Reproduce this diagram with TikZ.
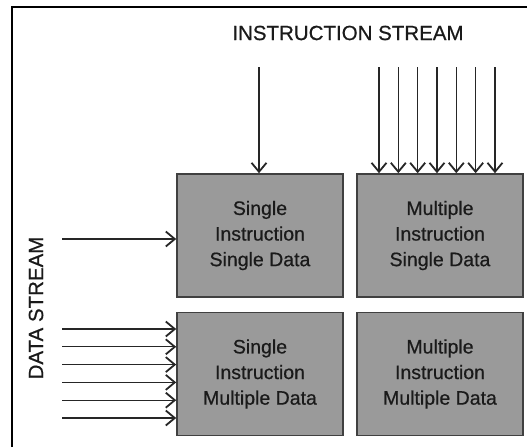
\documentclass[tikz,border=0pt]{standalone}
\usepackage{fontspec}
\setmainfont{Liberation Sans}
\newfontfamily\heavyish[FakeBold=0.6]{Liberation Sans}
\usetikzlibrary{arrows.meta}
\definecolor{boxfill}{HTML}{9A9A9A}
\definecolor{boxline}{HTML}{404040}
\definecolor{txt}{HTML}{1A1A1A}
\begin{document}
\begin{tikzpicture}[x=1pt,y=-1pt,
  cell/.style={draw=boxline, line width=1.6pt, fill=boxfill, minimum width=166pt, minimum height=123pt,
    inner sep=0pt, align=center, font=\heavyish\fontsize{19.5}{25.6}\selectfont, text=txt},
  arr/.style={line width=1.3pt, draw=black!85, -{Straight Barb[length=9pt,width=15pt,line width=1.8pt]}},
  lbl/.style={font=\heavyish\fontsize{20.5}{22}\selectfont, text=txt, inner sep=0pt}]
\useasboundingbox (0,0) rectangle (527,447);
\draw[line width=1.6pt, black] (12,447) -- (12,7) -- (527,7);
\node[cell] (sisd) at (260,235.5) {Single\\Instruction\\Single Data};
\node[cell] (misd) at (440,235.5) {Multiple\\Instruction\\Single Data};
\node[cell] (simd) at (260,374) {Single\\Instruction\\Multiple Data};
\node[cell] (mimd) at (440,374) {Multiple\\Instruction\\Multiple Data};
\node[lbl] (is) at (348,33) {INSTRUCTION STREAM};
\node[lbl, rotate=90] (ds) at (36,308) {DATA STREAM};
\coordinate (t0) at (259,67);
\draw[arr] (t0) -- (t0 |- sisd.north);
\foreach \i in {0,...,6} {
  \coordinate (m\i) at (379+\i*19.33,67);
  \draw[arr] (m\i) -- (m\i |- misd.north);
}
\coordinate (l0) at (62,239);
\draw[arr] (l0) -- (l0 -| sisd.west);
\foreach \i in {0,...,5} {
  \coordinate (d\i) at (62,329+\i*17.8);
  \draw[arr] (d\i) -- (d\i -| simd.west);
}
\end{tikzpicture}
\end{document}
